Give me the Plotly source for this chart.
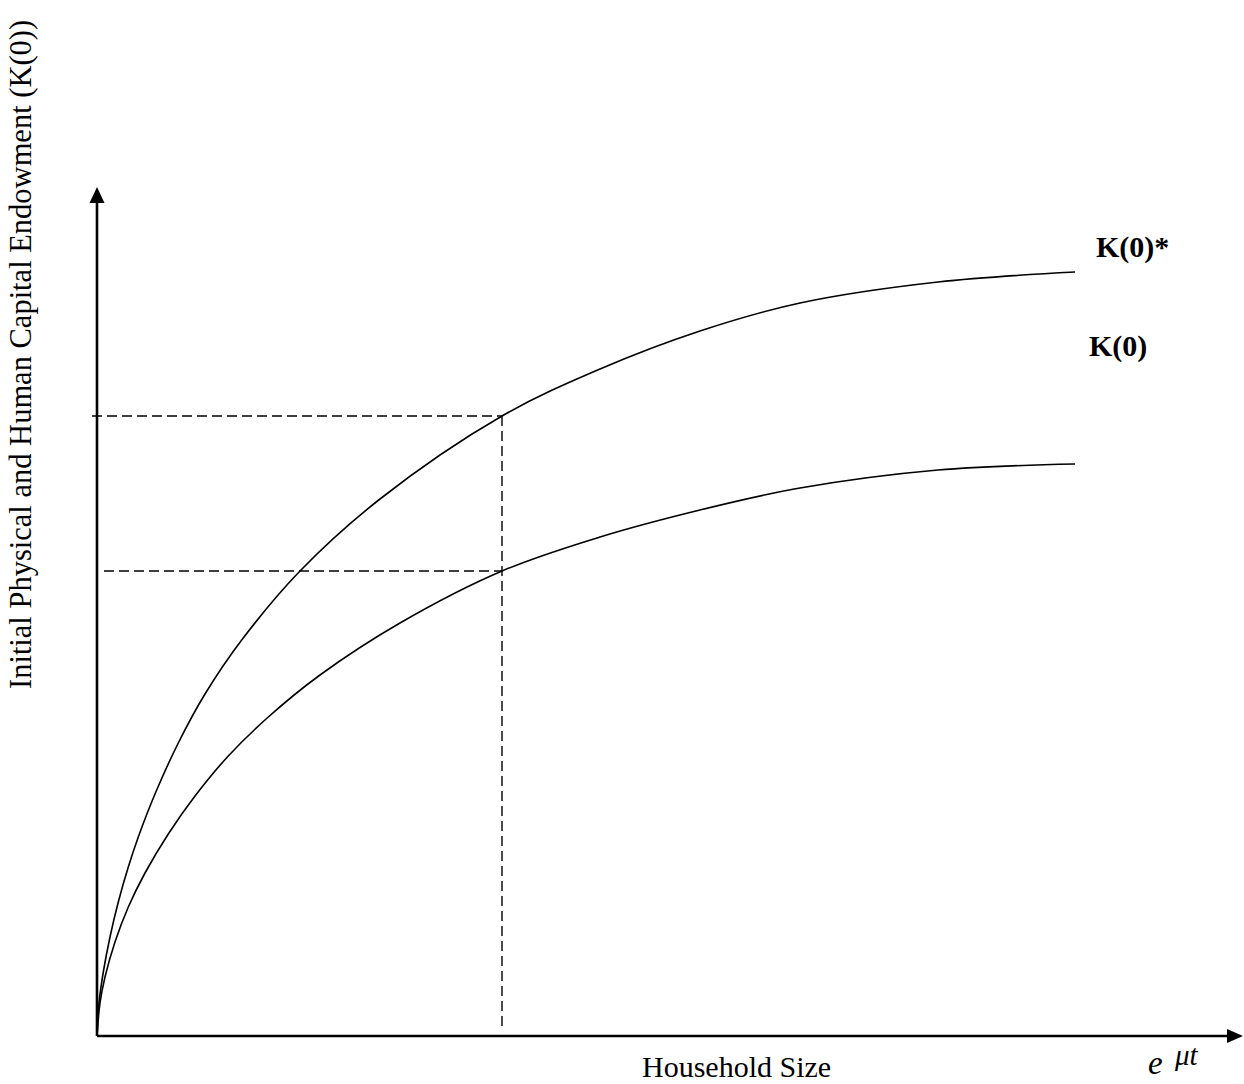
import plotly.graph_objects as go

# Household size (x) and endowment (y) (arbitrary units)
x_upper = [0, 0.02, 0.063, 0.13, 0.213, 0.313, 0.413, 0.58, 0.813, 1.08, 1.447, 2.03, 2.83, 4.05, 5.03, 6.03, 7.03, 8.41, 9.78]
k_star = [0, 0.33, 0.64, 0.99, 1.34, 1.69, 1.99, 2.42, 2.93, 3.42, 3.96, 4.65, 5.37, 6.20, 6.67, 7.05, 7.33, 7.54, 7.64]

x_lower = [0, 0.03, 0.08, 0.18, 0.313, 0.48, 0.713, 0.98, 1.313, 1.713, 2.23, 3.03, 4.05, 5.03, 6.03, 7.03, 8.41, 9.78]
k_zero = [0, 0.33, 0.59, 0.94, 1.29, 1.63, 2.02, 2.40, 2.80, 3.19, 3.61, 4.13, 4.65, 4.99, 5.26, 5.48, 5.66, 5.72]

mark_x = 4.05
mark_upper = 6.20
mark_lower = 4.65

X0, X1 = -0.97, 11.47
Y0, Y1 = -0.48, 10.36

fig = go.Figure()
line_style = dict(color="black", width=1.6)
fig.add_trace(go.Scatter(x=x_upper, y=k_star, mode="lines", line=dict(shape="spline", smoothing=1.0, **line_style), showlegend=False))
fig.add_trace(go.Scatter(x=x_lower, y=k_zero, mode="lines", line=dict(shape="spline", smoothing=1.0, **line_style), showlegend=False))

dash = dict(color="black", width=1.4, dash="10px,5px")
fig.add_trace(go.Scatter(x=[-0.05, mark_x], y=[mark_upper, mark_upper], mode="lines", line=dash, showlegend=False))
fig.add_trace(go.Scatter(x=[0.07, mark_x], y=[mark_lower, mark_lower], mode="lines", line=dash, showlegend=False))
fig.add_trace(go.Scatter(x=[mark_x, mark_x], y=[mark_upper, 0.06], mode="lines", line=dash, showlegend=False))

# axes with arrowheads
shapes = [
    dict(type="line", x0=0, y0=0, x1=0, y1=8.36, line=dict(color="black", width=2.6)),
    dict(type="line", x0=0, y0=0, x1=11.33, y1=0, line=dict(color="black", width=2.6)),
    dict(type="path", path="M -0.075 8.33 L 0.075 8.33 L 0 8.49 Z", fillcolor="black", line=dict(width=0)),
    dict(type="path", path="M 11.30 0.07 L 11.30 -0.07 L 11.46 0 Z", fillcolor="black", line=dict(width=0)),
]

def P(px, py):
    return px / 1244, 1 - py / 1084

serif = "Liberation Serif, Times New Roman, serif"
annotations = []
for txt, (px, py), size in [
    ("<b>K(0)*</b>", (1132, 247), 30),
    ("<b>K(0)</b>", (1118, 346), 30),
    ("Household Size", (736, 1066), 30),
    ("<i>e</i>", (1155, 1063), 33),
    ("<i>μt</i>", (1186, 1055), 29),
]:
    x, y = P(px, py)
    annotations.append(dict(text=txt, x=x, y=y, xref="paper", yref="paper", showarrow=False,
                            xanchor="center", yanchor="middle", font=dict(family=serif, size=size, color="black")))
x, y = P(21, 355)
annotations.append(dict(text="Initial Physical and Human Capital Endowment (K(0))", x=x, y=y, xref="paper", yref="paper",
                        showarrow=False, textangle=-90, xanchor="center", yanchor="middle",
                        font=dict(family=serif, size=30.5, color="black")))

fig.update_layout(
    width=1244, height=1084, margin=dict(l=0, r=0, t=0, b=0),
    paper_bgcolor="white", plot_bgcolor="white",
    xaxis=dict(range=[X0, X1], visible=False, fixedrange=True),
    yaxis=dict(range=[Y0, Y1], visible=False, fixedrange=True),
    shapes=shapes, annotations=annotations, showlegend=False,
)
fig.write_html("out.html", config={"displayModeBar": False, "staticPlot": True},
               post_script="document.body.style.margin='0px';document.body.style.overflow='hidden';")
